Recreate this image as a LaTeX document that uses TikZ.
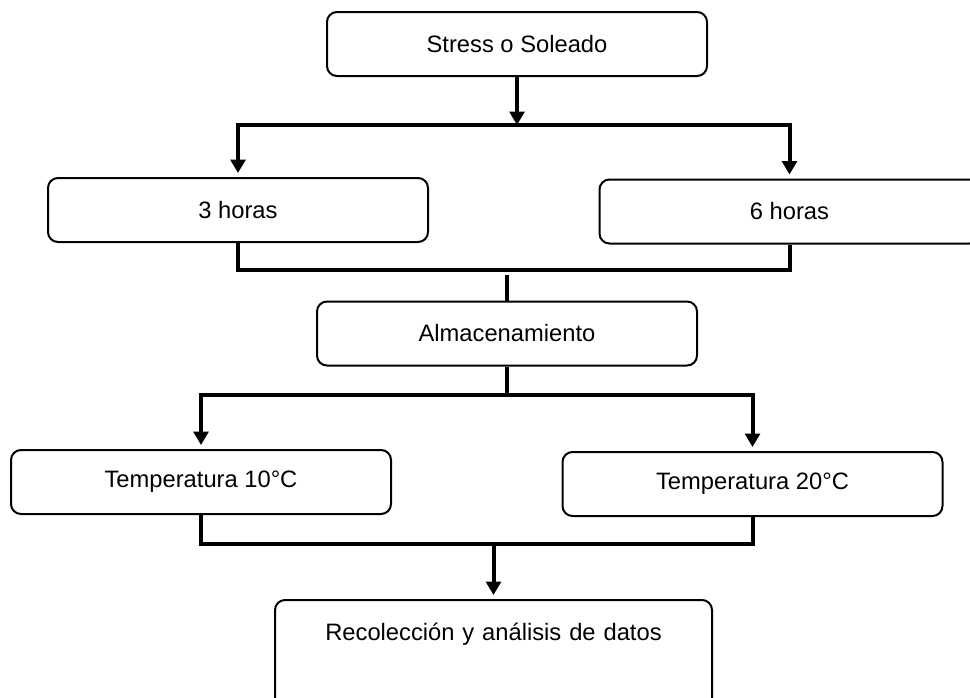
\documentclass[tikz,border=0pt]{standalone}
\usepackage{fontspec}
\setmainfont{Liberation Sans}
\usetikzlibrary{arrows.meta}
\begin{document}
\begin{tikzpicture}[x=0.75pt,y=-0.75pt,
 box/.style={draw,line width=1.5pt,rounded corners=7.5pt,minimum width=285pt,minimum height=48pt,inner sep=0pt,font=\fontsize{17.8}{21}\selectfont},
 conn/.style={line width=3pt},
 arr/.style={line width=3pt,-{Triangle[width=11pt,length=10pt]},shorten >=3pt},
]
\useasboundingbox (0,0) rectangle (970,697);
\clip (0,0) rectangle (970,697);
\node[box] (stress) at (517,44) {Stress o Soleado};
\node[box] (h3) at (238,210) {3 horas};
\node[box] (h6) at (789.5,211.5) {6 horas};
\node[box] (alm) at (507,333.5) {Almacenamiento};
\node[box] (t10) at (201,482) {Temperatura 10°C};
\node[box] (t20) at (752.5,484) {Temperatura 20°C};
\node[box,anchor=north,minimum height=0pt,text width=327.75pt,align=center,text height=30pt,text depth=70pt] (rec) at (493.5,599) {Recolección y análisis de datos};
% connectors
\coordinate (b1) at (517,125);
\draw[line width=3pt,-{Triangle[width=11pt,length=10pt]}] (stress.south) -- (b1);
\draw[arr] (b1) -| (h3.north);
\draw[arr] (b1) -| (h6.north);
\draw[conn] (h3.south) -- ++(0,27) -| (h6.south);
\coordinate (s2) at (507,275);
\draw[conn] (s2) -- (alm.north);
\coordinate (b2) at (507,395);
\draw[arr] (alm.south) -- (b2) -| (t10.north);
\draw[arr] (alm.south) -- (b2) -| (t20.north);
\draw[conn] (t10.south) -- ++(0,29) -| (t20.south);
\coordinate (b3) at (493.5,543);
\draw[arr] (b3) -- (rec.north);
\end{tikzpicture}
\end{document}
